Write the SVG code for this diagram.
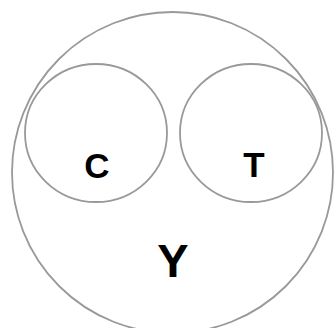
<svg xmlns="http://www.w3.org/2000/svg" width="336" height="328" viewBox="0 0 336 328">
<style>
.c{fill:none;stroke:#999;stroke-width:1.8}
.t{font-family:"Liberation Sans",Arial,sans-serif;font-weight:bold;fill:#000;text-anchor:middle}
</style>
<rect width="336" height="328" fill="#fff"/>
<g id="Y"><circle class="c" cx="172.5" cy="172.5" r="160.5"/><text class="t" x="173" y="277" font-size="47">Y</text></g>
<g id="C"><ellipse class="c" cx="96" cy="133" rx="71" ry="69"/><text class="t" x="97" y="178" font-size="35">C</text></g>
<g id="T"><ellipse class="c" cx="251" cy="133" rx="71" ry="69"/><text class="t" x="254" y="177" font-size="35">T</text></g>
<g id="connectors"/>
</svg>
